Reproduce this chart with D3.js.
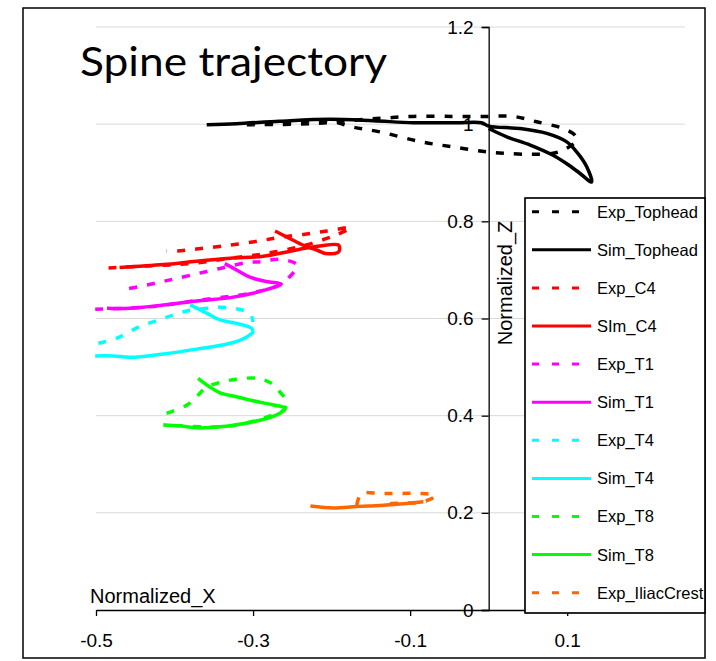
<!DOCTYPE html>
<html>
<head>
<meta charset="utf-8">
<script src="https://cdn.jsdelivr.net/npm/d3@7"></script>
<style>
  html, body { margin: 0; padding: 0; background: #fff; }
  svg { display: block; }
</style>
</head>
<body>
<svg id="chart" width="716" height="661"></svg>
<script>
// ---------- DATA (x = Normalized_X, z = Normalized_Z) ----------
const expTophead = [[-0.308,0.999],[-0.224,1.001],[-0.181,1.007],[-0.138,1.012],[-0.096,1.016],[-0.045,1.016],[-0.003,1.016],[0.031,1.016],[0.061,1.005],[0.095,0.991],[0.110,0.977],[0.112,0.967],[0.099,0.950],[0.082,0.940],[0.053,0.938],[0.019,0.940],[-0.003,0.943],[-0.045,0.953],[-0.087,0.964],[-0.138,0.984],[-0.173,0.994],[-0.202,1.006],[-0.253,1.002],[-0.304,1.000]];
const simTophead = [[-0.359,0.999],[-0.321,1.001],[-0.266,1.006],[-0.202,1.010],[-0.147,1.007],[-0.096,1.003],[-0.041,1.003],[-0.009,1.003],[0.000,0.996],[0.040,0.991],[0.074,0.981],[0.099,0.964],[0.112,0.943],[0.125,0.912],[0.131,0.881],[0.116,0.899],[0.099,0.919],[0.082,0.936],[0.053,0.957],[0.023,0.974],[0.000,0.991]];
const expC4 = [[-0.484,0.704],[-0.435,0.708],[-0.380,0.713],[-0.329,0.724],[-0.283,0.734],[-0.240,0.748],[-0.215,0.760],[-0.194,0.772],[-0.176,0.787],[-0.206,0.780],[-0.236,0.773],[-0.266,0.767],[-0.291,0.760],[-0.329,0.751],[-0.372,0.743],[-0.397,0.739],[-0.410,0.739]];
const simC4 = [[-0.470,0.705],[-0.414,0.711],[-0.372,0.718],[-0.329,0.724],[-0.287,0.728],[-0.257,0.737],[-0.232,0.745],[-0.215,0.749],[-0.191,0.751],[-0.191,0.737],[-0.208,0.734],[-0.219,0.741],[-0.232,0.748],[-0.249,0.761],[-0.272,0.780]];
const expT1 = [[-0.501,0.619],[-0.431,0.624],[-0.368,0.638],[-0.304,0.652],[-0.266,0.669],[-0.255,0.683],[-0.244,0.710],[-0.266,0.722],[-0.289,0.717],[-0.308,0.715],[-0.342,0.703],[-0.380,0.689],[-0.410,0.678],[-0.435,0.669],[-0.463,0.660]];
const simT1 = [[-0.486,0.621],[-0.457,0.621],[-0.414,0.628],[-0.372,0.636],[-0.329,0.643],[-0.300,0.652],[-0.274,0.664],[-0.264,0.671],[-0.283,0.676],[-0.304,0.685],[-0.321,0.700],[-0.336,0.713]];
const expT4 = [[-0.497,0.549],[-0.474,0.559],[-0.445,0.583],[-0.420,0.597],[-0.402,0.607],[-0.380,0.617],[-0.359,0.621],[-0.342,0.623],[-0.321,0.620],[-0.308,0.614],[-0.302,0.605],[-0.300,0.593]];
const simT4 = [[-0.501,0.523],[-0.478,0.523],[-0.457,0.520],[-0.414,0.527],[-0.372,0.537],[-0.329,0.549],[-0.308,0.562],[-0.300,0.573],[-0.302,0.580],[-0.321,0.590],[-0.342,0.597],[-0.359,0.611],[-0.380,0.628]];
const expT8 = [[-0.410,0.405],[-0.384,0.422],[-0.372,0.439],[-0.359,0.459],[-0.338,0.470],[-0.321,0.475],[-0.295,0.477],[-0.276,0.466],[-0.266,0.449],[-0.257,0.429],[-0.261,0.412],[-0.276,0.401],[-0.308,0.385],[-0.342,0.377],[-0.393,0.379],[-0.414,0.381]];
const simT8 = [[-0.414,0.381],[-0.393,0.379],[-0.372,0.375],[-0.342,0.377],[-0.308,0.385],[-0.283,0.394],[-0.266,0.405],[-0.259,0.415],[-0.274,0.422],[-0.295,0.429],[-0.321,0.439],[-0.342,0.447],[-0.355,0.459],[-0.370,0.477]];
const expIliacCrest = [[-0.168,0.216],[-0.166,0.228],[-0.162,0.240],[-0.138,0.240],[-0.113,0.240],[-0.087,0.240],[-0.068,0.235],[-0.083,0.223],[-0.113,0.220],[-0.138,0.218]];
const simIliacCrest = [[-0.227,0.214],[-0.198,0.210],[-0.168,0.213],[-0.138,0.215],[-0.113,0.218],[-0.083,0.223]];

const seriesNames = ["Exp_Tophead","Sim_Tophead","Exp_C4","SIm_C4","Exp_T1","Sim_T1","Exp_T4","Sim_T4","Exp_T8","Sim_T8","Exp_IliacCrest","Sim_IliacCrest"];
const seriesData = [expTophead, simTophead, expC4, simC4, expT1, simT1, expT4, simT4, expT8, simT8, expIliacCrest, simIliacCrest];
const seriesColors = ["#000000","#000000","#FF0000","#FF0000","#FF00FF","#FF00FF","#00FFFF","#00FFFF","#00FF00","#00FF00","#FF6600","#FF6600"];
const seriesDashed = [true,false,true,false,true,false,true,false,true,false,true,false];

const xTicks = [-0.5,-0.3,-0.1,0.1];
const yTicks = [0,0.2,0.4,0.6,0.8,1.0,1.2];
const xDomain = [-0.5, 0.25];
const yDomain = [0, 1.2];

// ---------- CHART ----------
const svg = d3.select("#chart");
const x = d3.scaleLinear().domain(xDomain).range([96, 685]);
const y = d3.scaleLinear().domain(yDomain).range([610, 27]);
const FONT = "'Liberation Sans', Arial, sans-serif";
const fmt = d => d3.format(".1f")(d).replace("\u2212", "-");

// outer frame
svg.append("rect").attr("x",23).attr("y",8).attr("width",682).attr("height",650)
  .attr("fill","#fff").attr("stroke","#000").attr("stroke-width",1.5);

// gridlines
svg.append("g").selectAll("line").data(yTicks.filter(d => d > 0)).join("line")
  .attr("x1", x(xDomain[0])).attr("x2", x(xDomain[1]))
  .attr("y1", d => y(d)).attr("y2", d => y(d))
  .attr("stroke","#d9d9d9").attr("stroke-width",1);

// title
svg.append("text").attr("x",80).attr("y",76)
  .attr("font-family","Lato, 'Open Sans', sans-serif").attr("font-size",41)
  .attr("textLength",307).attr("lengthAdjust","spacingAndGlyphs")
  .text("Spine trajectory");

// y axis (at x = 0)
const yAxis = svg.append("g").attr("transform",`translate(${x(0)},0)`)
  .call(d3.axisLeft(y).tickValues(yTicks).tickSize(7).tickPadding(8)
    .tickFormat(d => (d === 0 ? "0" : d === 1 ? "1" : fmt(d))));
yAxis.select(".domain").attr("stroke","#000").attr("stroke-width",1.3);
yAxis.selectAll(".tick line").attr("stroke","#000").attr("stroke-width",1.3);
yAxis.selectAll(".tick text").attr("font-family",FONT).attr("font-size",19).attr("fill","#000");

// x axis (at z = 0)
const xAxis = svg.append("g").attr("transform",`translate(0,${y(0)})`)
  .call(d3.axisBottom(x).tickValues(xTicks).tickSize(6).tickPadding(18).tickSizeOuter(0)
    .tickFormat(fmt));
xAxis.select(".domain").attr("stroke","#000").attr("stroke-width",1.3);
xAxis.selectAll(".tick line").attr("stroke","#000").attr("stroke-width",1.3);
xAxis.selectAll(".tick text").attr("font-family",FONT).attr("font-size",19).attr("fill","#000");

// axis titles
svg.append("text").attr("x",90).attr("y",603)
  .attr("font-family",FONT).attr("font-size",20).text("Normalized_X");
svg.append("text").attr("transform","translate(512,283) rotate(-90)")
  .attr("text-anchor","middle")
  .attr("font-family",FONT).attr("font-size",20).text("Normalized_Z");

// series
const line = d3.line().x(d => x(d[0])).y(d => y(d[1])).curve(d3.curveCatmullRom.alpha(0.5));
const gSeries = svg.append("g");
seriesData.forEach((data, i) => {
  gSeries.append("path").datum(data)
    .attr("d", line)
    .attr("fill","none")
    .attr("stroke", seriesColors[i])
    .attr("stroke-width", 3.5)
    .attr("stroke-dasharray", seriesDashed[i] ? "8,10" : null)
    .attr("stroke-linejoin","round");
});

// legend
const lg = { x: 525, y: 198, w: 180, h: 415 };
svg.append("clipPath").attr("id","legclip").append("rect")
  .attr("x",lg.x).attr("y",lg.y).attr("width",lg.w).attr("height",lg.h);
svg.append("rect").attr("x",lg.x).attr("y",lg.y).attr("width",lg.w).attr("height",lg.h)
  .attr("fill","#fff").attr("stroke","#000").attr("stroke-width",1.2);
const legItems = svg.append("g").attr("clip-path","url(#legclip)")
  .selectAll("g").data(seriesNames.slice(0, 11)).join("g")
  .attr("transform",(d,i) => `translate(0,${211.7 + i*38.1})`);
legItems.append("line")
  .attr("x1",532).attr("x2",591).attr("y1",0).attr("y2",0)
  .attr("stroke",(d,i) => seriesColors[i]).attr("stroke-width",3)
  .attr("stroke-dasharray",(d,i) => seriesDashed[i] ? "7,13" : null);
legItems.append("text")
  .attr("x",597).attr("y",0).attr("dy","0.36em")
  .attr("font-family",FONT).attr("font-size",16.5).attr("fill","#000")
  .text(d => d);
svg.append("rect").attr("x",lg.x).attr("y",lg.y).attr("width",lg.w).attr("height",lg.h)
  .attr("fill","none").attr("stroke","#000").attr("stroke-width",1.2);
</script>
</body>
</html>
